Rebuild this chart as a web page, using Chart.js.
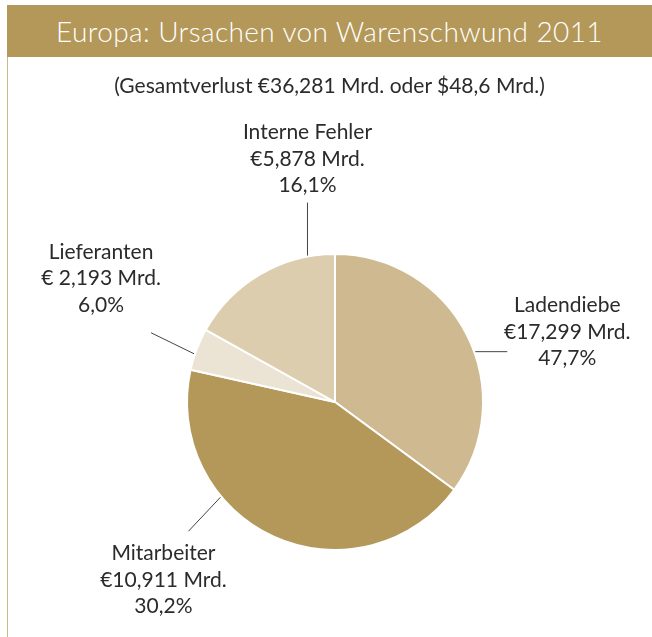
<!DOCTYPE html>
<html>
<head>
<meta charset="utf-8">
<script src="https://cdn.jsdelivr.net/npm/chart.js@4"></script>
<style>
  body { margin: 0; background: #fff; font-family: Lato, "Open Sans", sans-serif; }
  #wrap { position: relative; width: 652px; height: 637px; overflow: hidden; }
  #frame { position: absolute; left: 7px; top: 5px; width: 1px; height: 632px; background: #cbb98b; }
  #title { position: absolute; left: 7px; top: 5px; width: 645px; height: 52px; background: #b39859;
           color: #fff; font-size: 28px; font-weight: 300; line-height: 52px; text-align: center; letter-spacing: 0.4px; }
  #sub { position: absolute; left: 7px; top: 72px; width: 645px; text-align: center; font-size: 21px; color: #2b2b2b; }
  canvas { position: absolute; left: 0; top: 0; }
</style>
</head>
<body>
<div id="wrap">
  <div id="frame"></div>
  <canvas id="pieChart" width="652" height="637"></canvas>
  <div id="title">Europa: Ursachen von Warenschwund 2011</div>
  <div id="sub">(Gesamtverlust €36,281 Mrd. oder $48,6 Mrd.)</div>
</div>
<script>
// Data
const categories = ['Ladendiebe', 'Mitarbeiter', 'Lieferanten', 'Interne Fehler'];
const amounts = ['€17,299 Mrd.', '€10,911 Mrd.', '€ 2,193 Mrd.', '€5,878 Mrd.'];
const percents = ['47,7%', '30,2%', '6,0%', '16,1%'];
// slice sizes as drawn in the picture (share of the circle, %)
const sliceShare = [35.1, 43.4, 4.6, 16.9];

const colors = ['#cfb990', '#b39859', '#ebe3d3', '#dccdae'];

// label placement: where on the slice the leader starts (0..1 along the arc),
// leader end offset, and text offset from the leader end
const labelLayout = [
    { at: 0.556, lx: 32, ly: 0, tx: 60, ty: -46 },
    { at: 0.665, lx: -32, ly: 34, tx: -25, ty: 22 },
    { at: 0.38, lx: -43, ly: -21, tx: -50, ty: -81 },
    { at: 0.825, lx: 0, ly: -53, tx: 0, ty: -70 }
];

const calloutPlugin = {
    id: 'callouts',
    afterDraw(chart) {
        const ctx = chart.ctx;
        const arcs = chart.getDatasetMeta(0).data;
        ctx.save();
        arcs.forEach((arc, i) => {
            const p = arc.getProps(['x', 'y', 'startAngle', 'endAngle', 'outerRadius'], true);
            const lay = labelLayout[i];
            const a = p.startAngle + (p.endAngle - p.startAngle) * lay.at;
            const sx = p.x + Math.cos(a) * (p.outerRadius + 1);
            const sy = p.y + Math.sin(a) * (p.outerRadius + 1);
            const ex = sx + lay.lx;
            const ey = sy + lay.ly;
            ctx.strokeStyle = '#444';
            ctx.lineWidth = 1;
            ctx.beginPath();
            ctx.moveTo(sx, sy);
            ctx.lineTo(ex, ey);
            ctx.stroke();

            ctx.fillStyle = '#2b2b2b';
            ctx.font = '21px Lato, "Open Sans", sans-serif';
            ctx.textAlign = 'center';
            ctx.textBaseline = 'middle';
            const lines = [categories[i], amounts[i], percents[i]];
            lines.forEach((t, k) => {
                ctx.fillText(t, ex + lay.tx, ey + lay.ty + k * 26.5);
            });
        });
        ctx.restore();
    }
};

const ctx = document.getElementById('pieChart').getContext('2d');
new Chart(ctx, {
    type: 'pie',
    data: {
        labels: categories,
        datasets: [{
            data: sliceShare,
            backgroundColor: colors,
            borderColor: '#ffffff',
            borderWidth: 2
        }]
    },
    options: {
        responsive: false,
        animation: false,
        layout: {
            padding: { left: 186, right: 168, top: 253, bottom: 86 }
        },
        plugins: {
            legend: { display: false },
            tooltip: { enabled: false },
            title: { display: false }
        }
    },
    plugins: [calloutPlugin]
});
</script>
</body>
</html>
